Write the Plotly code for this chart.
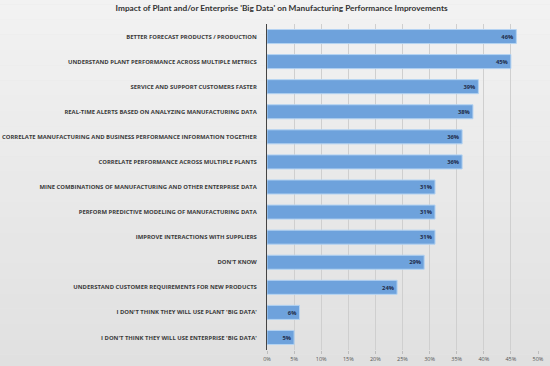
import plotly.graph_objects as go

categories = [
    "BETTER FORECAST PRODUCTS / PRODUCTION",
    "UNDERSTAND PLANT PERFORMANCE ACROSS MULTIPLE METRICS",
    "SERVICE AND SUPPORT CUSTOMERS FASTER",
    "REAL-TIME ALERTS BASED ON ANALYZING MANUFACTURING DATA",
    "CORRELATE MANUFACTURING AND BUSINESS PERFORMANCE INFORMATION TOGETHER",
    "CORRELATE PERFORMANCE ACROSS MULTIPLE PLANTS",
    "MINE COMBINATIONS OF MANUFACTURING AND OTHER ENTERPRISE DATA",
    "PERFORM PREDICTIVE MODELING OF MANUFACTURING DATA",
    "IMPROVE INTERACTIONS WITH SUPPLIERS",
    "DON'T KNOW",
    "UNDERSTAND CUSTOMER REQUIREMENTS FOR NEW PRODUCTS",
    "I DON'T THINK THEY WILL USE PLANT 'BIG DATA'",
    "I DON'T THINK THEY WILL USE ENTERPRISE 'BIG DATA'",
]
values = [46, 45, 39, 38, 36, 36, 31, 31, 31, 29, 24, 6, 5]
tick_vals = [0, 5, 10, 15, 20, 25, 30, 35, 40, 45, 50]
tick_text = ["0%", "5%", "10%", "15%", "20%", "25%", "30%", "35%", "40%", "45%", "50%"]
title = "Impact of Plant and/or Enterprise 'Big Data' on Manufacturing Performance Improvements"

fig = go.Figure(go.Bar(
    x=values,
    y=categories,
    orientation="h",
    marker=dict(color="#6ea2dc", line=dict(color="#b4d3f2", width=1)),
    text=[f"{v}%" for v in values],
    textposition="inside",
    insidetextanchor="end",
    textfont=dict(family="Open Sans", size=6.5, color="#1f2d4a", weight="bold"),
    cliponaxis=False,
))

# soft vertical gradient background
shapes = []
n = 30
top = (244, 244, 244)
bot = (222, 222, 222)
for i in range(n):
    t = i / (n - 1)
    c = tuple(int(round(top[k] + (bot[k] - top[k]) * t)) for k in range(3))
    shapes.append(dict(type="rect", xref="paper", yref="paper",
                       x0=-1, x1=2, y0=1.2 - (i + 1) * 1.4 / n, y1=1.2 - i * 1.4 / n,
                       fillcolor=f"rgb{c}", line=dict(width=0), layer="below"))

fig.update_layout(
    width=550, height=366,
    margin=dict(l=267, r=12, t=24, b=16),
    paper_bgcolor="#e6e6e6",
    plot_bgcolor="rgba(0,0,0,0)",
    shapes=shapes,
    bargap=0.44,
    showlegend=False,
    title=dict(text=title, x=0.512, xanchor="center", y=0.985, yanchor="top",
               font=dict(family="Lato", size=8.3, color="#333333", weight="bold")),
    xaxis=dict(range=[0, 50], tickvals=tick_vals, ticktext=tick_text,
               showgrid=True, gridcolor="#cfcfcf", gridwidth=1,
               zeroline=False, showline=False, automargin=False,
               ticks="outside", ticklen=3, tickcolor="#bdbdbd",
               tickfont=dict(family="Open Sans", size=5.5, color="#555555")),
    yaxis=dict(autorange="reversed", showgrid=False, zeroline=False,
               showline=True, linecolor="#444444", linewidth=1,
               ticks="", ticklabelstandoff=8, automargin=False,
               tickfont=dict(family="Open Sans", size=5.9, color="#3a3a3a", weight="bold")),
)

fig.write_html("out.html", config={"displayModeBar": False},
               post_script="document.body.style.margin='0';document.body.style.overflow='hidden';")
